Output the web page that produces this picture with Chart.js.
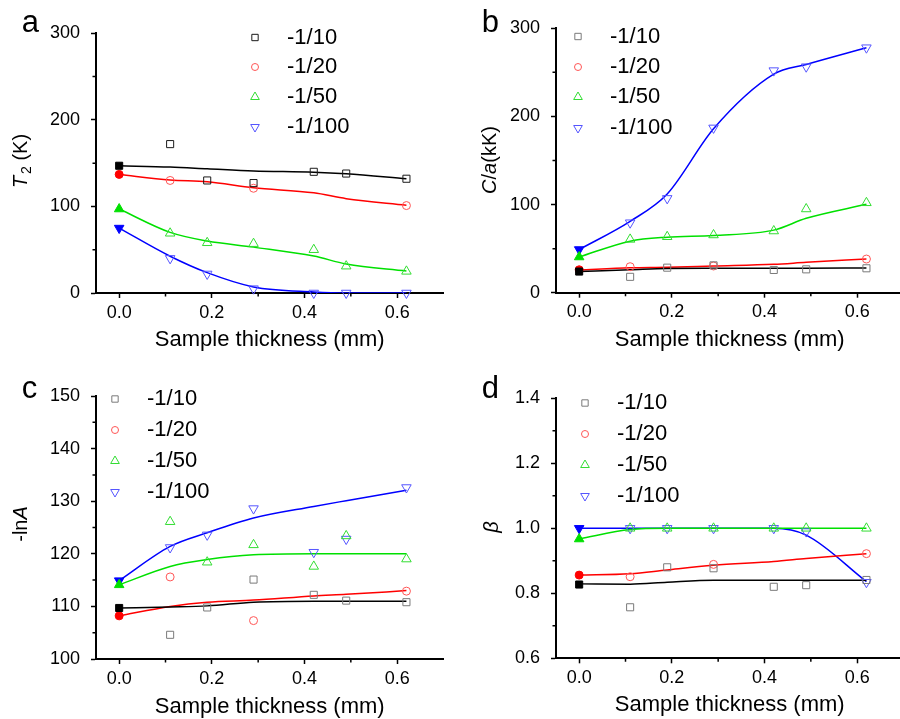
<!DOCTYPE html>
<html>
<head>
<meta charset="utf-8">
<script src="https://cdn.jsdelivr.net/npm/chart.js@4.4.1/dist/chart.umd.min.js"></script>
<style>
  html, body { margin: 0; padding: 0; background: #fff; overflow: hidden; width: 900px; height: 719px; position: relative; }
  canvas { position: absolute; }
</style>
</head>
<body>
<canvas id="panelA" width="450" height="360" style="left:0;top:0"></canvas>
<canvas id="panelB" width="460" height="360" style="left:450px;top:0"></canvas>
<canvas id="panelC" width="450" height="370" style="left:0;top:360px"></canvas>
<canvas id="panelD" width="460" height="370" style="left:450px;top:360px"></canvas>
<script>
const FONT = "'Liberation Sans', Arial, sans-serif";

// shared x values and labels
const thickness = [0, 0.11, 0.19, 0.29, 0.42, 0.49, 0.62];
const seriesLabels = ['-1/10', '-1/20', '-1/50', '-1/100'];
const xMajorTicks = [0, 0.2, 0.4, 0.6];
const xMinorTicks = [0.1, 0.3, 0.5];

// panel a: T2 (K)
const t2_10 = [147, 172, 130, 127, 140, 138, 132];
const t2_20 = [137, 130, null, 121, null, null, 101];
const t2_50 = [97, 69, 58, 57, 50, 31, 25];
const t2_100 = [75, 40, 22, 5, 0, 0, 0];
const t2Fit_10 = [147, 145.5, 143.5, 141, 139.6, 137.7, 132];
const t2Fit_20 = [137, 130.5, 128.5, 121.5, 115.7, 109, 101.5];
const t2Fit_50 = [97, 70, 60, 53, 42.7, 33.5, 25.5];
const t2Fit_100 = [75, 42.5, 23.5, 7, 1.2, 0, 0];
const t2Ticks = [0, 100, 200, 300];
const t2Minor = [50, 150, 250];

// panel b: C/a (kK)
const ca_10 = [24, 18, 28.4, 31, 25.8, 26.5, 27.7];
const ca_20 = [26, 29.5, null, 30.3, null, null, 38.2];
const ca_50 = [40.5, 60.5, 63.5, 65.5, 70, 95, 102];
const ca_100 = [49, 79.4, 107, 187, 252, 256.4, 278];
const caFit_10 = [24, 26, 27.5, 27.7, 27.8, 27.8, 28];
const caFit_20 = [25.8, 28.2, 28.8, 30.3, 32.2, 34.5, 38.2];
const caFit_50 = [40.5, 58.5, 63, 65, 71, 84.4, 100.3];
const caFit_100 = [49, 81, 112, 186, 248, 259, 278];
const caTicks = [0, 100, 200, 300];
const caMinor = [50, 150, 250];

// panel c: -lnA
const lnA_10 = [109.7, 104.6, 109.8, 115.1, 112.2, 111.1, 110.8];
const lnA_20 = [108.2, 115.6, null, 107.3, null, null, 112.9];
const lnA_50 = [114.1, 126.1, 118.4, 121.7, 117.6, 123.4, 119.0];
const lnA_100 = [114.9, 121.2, 123.6, 128.6, 120.3, 122.8, 132.6];
const lnAFit_10 = [109.7, 109.9, 110.1, 110.8, 111, 111, 111];
const lnAFit_20 = [108.2, 110.0, 110.8, 111.2, 112.0, 112.3, 113.0];
const lnAFit_50 = [114.1, 117.6, 118.9, 119.8, 120, 120, 120];
const lnAFit_100 = [114.9, 121.4, 124.0, 126.8, 129.0, 130.1, 132.1];
const lnATicks = [100, 110, 120, 130, 140, 150];
const lnAMinor = [105, 115, 125, 135, 145];

// panel d: beta
const beta_10 = [0.827, 0.757, 0.880, 0.877, 0.820, 0.825, 0.841];
const beta_20 = [0.856, 0.851, null, 0.889, null, null, 0.922];
const beta_50 = [0.967, 1.0, 1.0, 1.0, 1.0, 1.0, 1.0];
const beta_100 = [1.0, 1.0, 1.0, 1.0, 1.0, 0.99, 0.834];
const betaFit_10 = [0.829, 0.828, 0.834, 0.84, 0.84, 0.84, 0.84];
const betaFit_20 = [0.856, 0.860, 0.872, 0.886, 0.898, 0.907, 0.922];
const betaFit_50 = [0.967, 0.996, 1.0, 1.0, 1.0, 1.0, 1.0];
const betaFit_100 = [1.0, 1.0, 1.0, 1.0, 1.0, 0.979, 0.836];
const betaTicks = [0.6, 0.8, 1.0, 1.2, 1.4];
const betaMinor = [0.7, 0.9, 1.1, 1.3];

// styles
const lineColors = ['#000000', '#ff0000', '#00e000', '#0000ff'];
const markerStyles = ['rect', 'circle', 'triangle', 'triangle'];
const markerRotation = [0, 0, 0, 180];
const markerRadius = [5, 4, 5.5, 5.5];

const toXY = ys => thickness.map((x, i) => ({ x: x, y: ys[i] }));

function drawRichVertical(ctx, segs, cx, cy, size) {
    ctx.save();
    ctx.translate(cx, cy);
    ctx.rotate(-Math.PI / 2);
    ctx.textBaseline = 'middle';
    ctx.fillStyle = '#000';
    const fontFor = seg => (seg.italic ? 'italic ' : '') + (seg.sub ? size * 0.7 : size) + 'px ' + FONT;
    let total = 0;
    segs.forEach(seg => {
        ctx.font = fontFor(seg);
        total += ctx.measureText(seg.text).width + (seg.gap || 0);
    });
    let px = -total / 2;
    segs.forEach(seg => {
        ctx.font = fontFor(seg);
        ctx.fillText(seg.text, px, seg.sub ? size * 0.3 : 0);
        px += ctx.measureText(seg.text).width + (seg.gap || 0);
    });
    ctx.restore();
}

function decorPlugin(spec) {
    return {
        id: 'decor',
        afterDraw(chart) {
            const ctx = chart.ctx;
            const xs = chart.scales.x;
            const ys = chart.scales.y;
            const area = chart.chartArea;
            ctx.save();

            // minor ticks
            ctx.strokeStyle = '#000';
            ctx.lineWidth = 1.5;
            ctx.beginPath();
            xMinorTicks.forEach(v => {
                const px = xs.getPixelForValue(v);
                ctx.moveTo(px, area.bottom);
                ctx.lineTo(px, area.bottom + 3.5);
            });
            spec.yMinor.forEach(v => {
                const py = ys.getPixelForValue(v);
                ctx.moveTo(area.left, py);
                ctx.lineTo(area.left - 3.5, py);
            });
            ctx.stroke();

            // panel letter
            ctx.fillStyle = '#000';
            ctx.font = '31px ' + FONT;
            ctx.textBaseline = 'alphabetic';
            ctx.textAlign = 'left';
            ctx.fillText(spec.letter, spec.letterPos[0], spec.letterPos[1]);

            // y title
            drawRichVertical(ctx, spec.yTitle, spec.yTitlePos[0], spec.yTitlePos[1], 20);

            // legend
            const lg = spec.legend;
            for (let s = 0; s < 4; s++) {
                ctx.save();
                ctx.strokeStyle = spec.openColors[s];
                ctx.fillStyle = 'rgba(0,0,0,0)';
                ctx.lineWidth = 1;
                Chart.helpers.drawPoint(ctx, {
                    pointStyle: markerStyles[s],
                    rotation: markerRotation[s],
                    radius: markerRadius[s] - 0.5,
                    borderWidth: 1
                }, lg.markerX, lg.rows[s]);
                ctx.restore();
                ctx.fillStyle = '#000';
                ctx.font = '22px ' + FONT;
                ctx.textBaseline = 'middle';
                ctx.textAlign = 'left';
                ctx.fillText(seriesLabels[s], lg.textX, lg.rows[s]);
            }
            ctx.restore();
        }
    };
}

function makePanel(id, spec) {
    const canvas = document.getElementById(id);
    const W = canvas.width, H = canvas.height;
    const area = spec.area;
    const datasets = [];
    for (let s = 0; s < 4; s++) {
        datasets.push({
            label: seriesLabels[s] + ' fit',
            data: toXY(spec.fits[s]),
            showLine: true,
            borderColor: lineColors[s],
            borderWidth: 1.5,
            cubicInterpolationMode: 'monotone',
            pointRadius: 0,
            fill: false,
            order: 2
        });
        datasets.push({
            label: seriesLabels[s],
            data: toXY(spec.measured[s]),
            showLine: false,
            pointStyle: markerStyles[s],
            pointRotation: markerRotation[s],
            pointRadius: markerRadius[s],
            pointBorderWidth: 1,
            pointBorderColor: ctx => ctx.dataIndex === 0 ? lineColors[s] : spec.openColors[s],
            pointBackgroundColor: ctx => ctx.dataIndex === 0 ? lineColors[s] : 'rgba(0,0,0,0)',
            clip: false,
            order: 1
        });
    }

    const gridOpts = {
        display: true,
        drawOnChartArea: false,
        drawTicks: true,
        tickLength: 5,
        tickWidth: 1.5,
        tickColor: '#000'
    };
    const borderOpts = { display: true, color: '#000', width: 2 };

    return new Chart(canvas, {
        type: 'line',
        data: { datasets: datasets },
        options: {
            responsive: false,
            animation: false,
            devicePixelRatio: 1,
            layout: { padding: { left: 0, top: area.top, right: W - area.right, bottom: 0 } },
            plugins: {
                legend: { display: false },
                tooltip: { enabled: false }
            },
            scales: {
                x: {
                    type: 'linear',
                    min: -0.05,
                    max: 0.7,
                    afterBuildTicks: axis => { axis.ticks = xMajorTicks.map(v => ({ value: v })); },
                    afterFit: axis => { axis.height = H - area.bottom; },
                    ticks: {
                        font: { family: FONT, size: 18 },
                        color: '#000',
                        padding: 4,
                        maxRotation: 0,
                        autoSkip: false,
                        callback: v => Number(v).toFixed(1)
                    },
                    grid: gridOpts,
                    border: borderOpts,
                    title: {
                        display: true,
                        text: 'Sample thickness (mm)',
                        color: '#000',
                        font: { family: FONT, size: 22 },
                        padding: { top: 0, bottom: H - spec.xTitleY - 13.2 }
                    }
                },
                y: {
                    type: 'linear',
                    min: spec.yMin,
                    max: spec.yMax,
                    afterBuildTicks: axis => { axis.ticks = spec.yTicks.map(v => ({ value: v })); },
                    afterFit: axis => { axis.width = area.left; },
                    ticks: {
                        font: { family: FONT, size: 18 },
                        color: '#000',
                        padding: 11,
                        autoSkip: false,
                        callback: v => spec.yDecimals ? Number(v).toFixed(spec.yDecimals) : String(v)
                    },
                    grid: gridOpts,
                    border: borderOpts
                }
            }
        },
        plugins: [decorPlugin(spec)]
    });
}

const darkOpen = ['#1a1a1a', '#ff5555', '#33dd33', '#5555ff'];
const greyOpen = ['#7a7a7a', '#ff5555', '#33dd33', '#5555ff'];

makePanel('panelA', {
    measured: [t2_10, t2_20, t2_50, t2_100],
    fits: [t2Fit_10, t2Fit_20, t2Fit_50, t2Fit_100],
    yMin: 0, yMax: 300, yTicks: t2Ticks, yMinor: t2Minor,
    area: { left: 96, top: 33.3, right: 446.5, bottom: 293 },
    xTitleY: 340,
    letter: 'a', letterPos: [21.7, 31.7],
    yTitle: [{ text: 'T', italic: true, gap: 2 }, { text: '2', sub: true }, { text: ' (K)' }],
    yTitlePos: [21, 161],
    legend: { markerX: 255, textX: 287, rows: [37.5, 67, 97, 127] },
    openColors: darkOpen
});

makePanel('panelB', {
    measured: [ca_10, ca_20, ca_50, ca_100],
    fits: [caFit_10, caFit_20, caFit_50, caFit_100],
    yMin: 0, yMax: 300, yTicks: caTicks, yMinor: caMinor,
    area: { left: 106, top: 28.3, right: 457.5, bottom: 292.7 },
    xTitleY: 340,
    letter: 'b', letterPos: [31.7, 31.7],
    yTitle: [{ text: 'C', italic: true }, { text: '/' }, { text: 'a', italic: true }, { text: '(kK)' }],
    yTitlePos: [40, 160],
    legend: { markerX: 128, textX: 160, rows: [36.5, 67, 97, 128] },
    openColors: greyOpen
});

makePanel('panelC', {
    measured: [lnA_10, lnA_20, lnA_50, lnA_100],
    fits: [lnAFit_10, lnAFit_20, lnAFit_50, lnAFit_100],
    yMin: 100, yMax: 150, yTicks: lnATicks, yMinor: lnAMinor,
    area: { left: 96, top: 36, right: 449, bottom: 299 },
    xTitleY: 346.7,
    letter: 'c', letterPos: [21.7, 38.3],
    yTitle: [{ text: '-ln' }, { text: 'A', italic: true }],
    yTitlePos: [21, 164],
    legend: { markerX: 115, textX: 147, rows: [39, 70, 101, 132] },
    openColors: greyOpen
});

makePanel('panelD', {
    measured: [beta_10, beta_20, beta_50, beta_100],
    fits: [betaFit_10, betaFit_20, betaFit_50, betaFit_100],
    yMin: 0.6, yMax: 1.4, yTicks: betaTicks, yMinor: betaMinor, yDecimals: 1,
    area: { left: 106, top: 38.3, right: 457.5, bottom: 298.3 },
    xTitleY: 345,
    letter: 'd', letterPos: [31.7, 38.3],
    yTitle: [{ text: 'β', italic: true }],
    yTitlePos: [42, 167],
    legend: { markerX: 135, textX: 167, rows: [43, 74, 105, 136] },
    openColors: greyOpen
});
</script>
</body>
</html>
